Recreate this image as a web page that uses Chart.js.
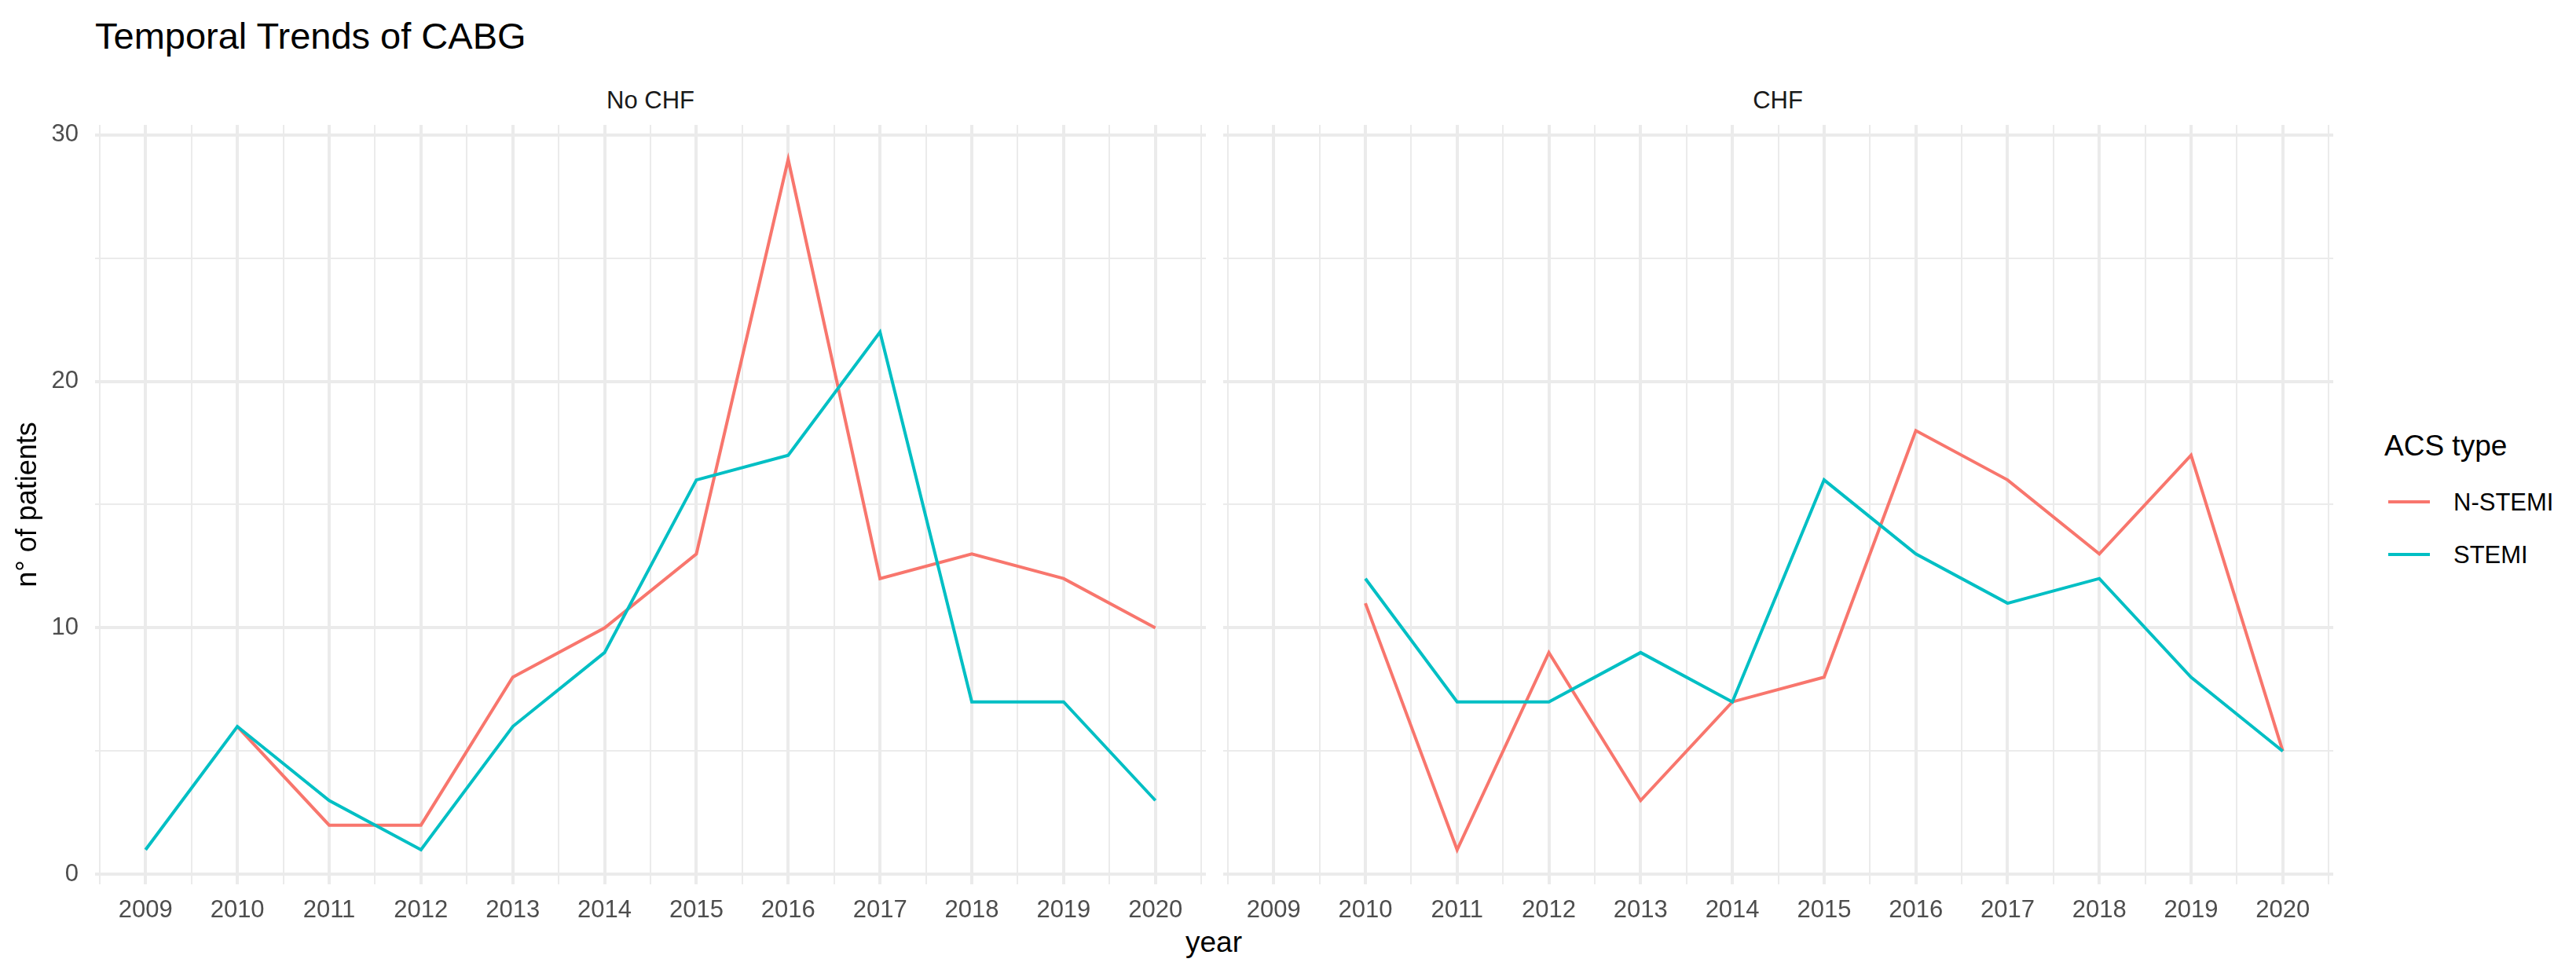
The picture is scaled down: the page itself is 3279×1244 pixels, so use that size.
<!DOCTYPE html>
<html>
<head>
<meta charset="utf-8">
<title>Temporal Trends of CABG</title>
<script src="https://cdn.jsdelivr.net/npm/chart.js@4.4.1/dist/chart.umd.min.js"></script>
<style>
  body { margin: 0; background: #fff; width: 3279px; height: 1244px; overflow: hidden; position: relative; font-family: "Liberation Sans", Arial, Helvetica, sans-serif; }
  canvas { position: absolute; }
  .txt { position: absolute; white-space: nowrap; line-height: 1; }
  .center { transform: translate(-50%, -50%); }
</style>
</head>
<body>

<div class="txt" style="left:121px; top:22px; font-size:47px; color:#000;">Temporal Trends of CABG</div>
<div class="txt center" id="strip1" style="left:828px; top:127px; font-size:31px; color:#1a1a1a;"></div>
<div class="txt center" id="strip2" style="left:2263px; top:127px; font-size:31px; color:#1a1a1a;"></div>
<div class="txt" style="left:1545px; top:1181px; font-size:37px; color:#000; transform: translateX(-50%);">year</div>

<canvas id="myChart1" width="1545" height="1044" style="left:0px; top:150px;"></canvas>
<canvas id="myChart2" width="1435" height="1044" style="left:1545px; top:150px;"></canvas>

<div id="legend"></div>

<script>
//Var General
var years = [2009, 2010, 2011, 2012, 2013, 2014, 2015, 2016, 2017, 2018, 2019, 2020];
var panels = ['No CHF', 'CHF'];
var seriesNames = ['N-STEMI', 'STEMI'];
var seriesColors = ['#F8766D', '#00BFC4'];
var yTicks = [0, 10, 20, 30];

// Var for panel "No CHF"
var nstemiNoChf = [null, 6, 2, 2, 8, 10, 13, 29, 12, 13, 12, 10];
var stemiNoChf = [1, 6, 3, 1, 6, 9, 16, 17, 22, 7, 7, 3];

// Var for panel "CHF"
var nstemiChf = [null, 11, 1, 9, 3, 7, 8, 18, 16, 13, 17, 5];
var stemiChf = [null, 12, 7, 7, 9, 7, 16, 13, 11, 12, 8, 5];

Chart.defaults.font.family = '"Liberation Sans", Arial, Helvetica, sans-serif';

function toPoints(values) {
  var pts = [];
  for (var i = 0; i < years.length; i++) {
    pts.push({ x: years[i], y: values[i] });
  }
  return pts;
}

// major grid at each year, minor halfway between
var xTickValues = [];
for (var i = 0; i < years.length; i++) {
  xTickValues.push(years[i] - 0.5);
  xTickValues.push(years[i]);
}
xTickValues.push(years[years.length - 1] + 0.5);

var yTickValues = [];
for (var i = 0; i < yTicks.length; i++) {
  yTickValues.push(yTicks[i]);
  if (i < yTicks.length - 1) yTickValues.push((yTicks[i] + yTicks[i + 1]) / 2);
}

var xPad = (years[years.length - 1] - years[0]) * 0.05;
var yLow = -0.4;
var yHigh = yTicks[yTicks.length - 1] + 0.4;

function makeDatasets(nstemi, stemi) {
  return [
    {
      label: seriesNames[0],
      data: toPoints(nstemi),
      borderColor: seriesColors[0],
      borderWidth: 4,
      pointRadius: 0,
      fill: false,
      tension: 0,
      order: 1
    },
    {
      label: seriesNames[1],
      data: toPoints(stemi),
      borderColor: seriesColors[1],
      borderWidth: 4,
      pointRadius: 0,
      fill: false,
      tension: 0,
      order: 0
    }
  ];
}

function makeOptions(showY) {
  return {
    responsive: false,
    animation: false,
    devicePixelRatio: 1,
    layout: { padding: { left: showY ? 0 : 12, top: 9, right: 10, bottom: 0 } },
    plugins: { legend: { display: false }, tooltip: { enabled: false } },
    scales: {
      x: {
        type: 'linear',
        min: years[0] - xPad,
        max: years[years.length - 1] + xPad,
        border: { display: false },
        grid: {
          color: '#EBEBEB',
          drawTicks: false,
          lineWidth: function (c) { return (c.tick && c.tick.value % 1 === 0) ? 4 : 2; }
        },
        afterBuildTicks: function (scale) {
          scale.ticks = xTickValues.map(function (v) { return { value: v }; });
        },
        ticks: {
          autoSkip: false,
          maxRotation: 0,
          padding: 15,
          color: '#4D4D4D',
          font: { size: 31 },
          callback: function (v) { return v % 1 === 0 ? String(v) : ''; }
        },
        afterFit: function (scale) {
          scale.height = 68;
          scale.paddingLeft = 0;
          scale.paddingRight = 0;
        }
      },
      y: {
        min: yLow,
        max: yHigh,
        border: { display: false },
        grid: {
          color: '#EBEBEB',
          drawTicks: false,
          lineWidth: function (c) { return (c.tick && c.tick.value % 10 === 0) ? 4 : 2; }
        },
        afterBuildTicks: function (scale) {
          scale.ticks = yTickValues.map(function (v) { return { value: v }; });
        },
        ticks: {
          display: showY,
          padding: 21,
          color: '#4D4D4D',
          font: { size: 31 },
          callback: function (v) { return v % 10 === 0 ? String(v) : ''; }
        },
        title: {
          display: showY,
          text: 'n° of patients',
          color: '#000',
          font: { size: 36 },
          padding: { top: 14, bottom: 0 }
        },
        afterFit: function (scale) {
          scale.width = showY ? 121 : 0;
          scale.paddingTop = 0;
          scale.paddingBottom = 0;
        }
      }
    }
  };
}

//Script for panel 1
document.getElementById('strip1').innerHTML = panels[0];
var ctx = document.getElementById('myChart1');
var myChart = new Chart(ctx, {
  type: 'line',
  data: { datasets: makeDatasets(nstemiNoChf, stemiNoChf) },
  options: makeOptions(true)
});

//Script for panel 2
document.getElementById('strip2').innerHTML = panels[1];
var ctx = document.getElementById('myChart2');
var myChart = new Chart(ctx, {
  type: 'line',
  data: { datasets: makeDatasets(nstemiChf, stemiChf) },
  options: makeOptions(false)
});

//Legend
var legendHtml = '<div class="txt" style="left:3035px; top:549px; font-size:37px; color:#000;">ACS type</div>';
for (var i = 0; i < seriesNames.length; i++) {
  var cy = 639 + i * 67;
  legendHtml += '<div style="position:absolute; left:3040px; top:' + (cy - 2) + 'px; width:53px; height:4px; background:' + seriesColors[i] + ';"></div>';
  legendHtml += '<div class="txt" style="left:3123px; top:' + (cy - 15) + 'px; font-size:31px; color:#000;">' + seriesNames[i] + '</div>';
}
document.getElementById('legend').innerHTML = legendHtml;
</script>
</body>
</html>
